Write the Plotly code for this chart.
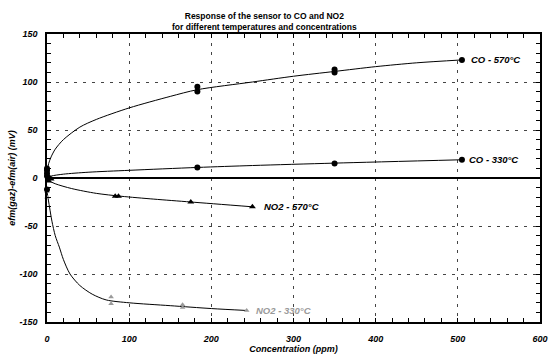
import plotly.graph_objects as go

# Fitted curves
co570_cx = [0, 2, 5, 10, 20, 40, 60, 100, 150, 183, 250, 300, 350, 400, 450, 505]
co570_cy = [5, 15, 22, 30, 40, 53, 61, 73, 85, 92, 100, 106, 111, 116, 120, 123]
co330_cx = [0, 5, 20, 50, 100, 183, 250, 350, 505]
co330_cy = [0, 2, 4, 6, 8, 11, 13, 15.5, 19]
no2570_cx = [0, 10, 30, 60, 90, 130, 175, 250]
no2570_cy = [-2, -6, -11, -16, -19, -22, -25, -30]
no2330_cx = [0, 3, 6, 10, 15, 20, 28, 40, 55, 72, 100, 150, 200, 243]
no2330_cy = [-14, -30, -45, -60, -72, -85, -100, -112, -121, -127, -130, -133, -136, -138]

# Measured points
co570_x = [0, 0, 0, 183, 183, 350, 350, 505]
co570_y = [5, 8, 10, 90, 95, 110, 113, 123]
co330_x = [0, 2, 183, 350, 505]
co330_y = [2, 0, 11, 15, 19]
no2570_x = [2, 5, 83, 87, 175, 250]
no2570_y = [-3, -1, -19, -19, -25, -30]
no2330_x = [0, 0, 78, 78, 165, 165, 243]
no2330_y = [-14, -20, -124, -131, -132, -135, -138]
extra_x = [0]
extra_y = [-12]

labels = ["CO - 570°C", "CO - 330°C", "NO2 - 570°C", "NO2 - 330°C"]
label_x = [514, 511, 262, 252]
label_y = [123, 19, -30, -138]
label_col = ["black", "black", "black", "#9a9a9a"]

FONT = "Liberation Sans, Arial, sans-serif"
fig = go.Figure()

for cx, cy in [(co570_cx, co570_cy), (co330_cx, co330_cy), (no2570_cx, no2570_cy), (no2330_cx, no2330_cy)]:
    fig.add_trace(go.Scatter(x=cx, y=cy, mode="lines", line=dict(color="black", width=1, shape="spline", smoothing=0.8),
                             showlegend=False, hoverinfo="skip"))

for xs, ys, sym, sz, col in [(co570_x, co570_y, "circle", 6, "black"), (co330_x, co330_y, "circle", 6, "black"),
                             (no2570_x, no2570_y, "triangle-up", 6, "black"),
                             (no2330_x, no2330_y, "triangle-up", 5, "#9a9a9a"),
                             (extra_x, extra_y, "circle", 6, "black")]:
    fig.add_trace(go.Scatter(x=xs, y=ys, mode="markers", cliponaxis=False,
                             marker=dict(symbol=sym, size=sz, color=col), showlegend=False))

for t, x, y, c in zip(labels, label_x, label_y, label_col):
    fig.add_annotation(x=x, y=y, text="<b><i>" + t + "</i></b>", showarrow=False, xanchor="left", yanchor="middle",
                       font=dict(family=FONT, size=9.5, color=c))

fig.add_annotation(xref="paper", yref="paper", x=(268 - 47) / 501, y=(330 - 21) / 296,
                   text="<b>Response of the sensor to CO and NO2<br>for different temperatures and concentrations</b>",
                   showarrow=False, xanchor="center", yanchor="middle", align="center",
                   font=dict(family=FONT, size=8.5, color="black"))

axis_common = dict(showline=True, linecolor="black", linewidth=1.5, mirror="ticks", ticks="inside",
                   ticklen=4, tickcolor="black", showgrid=True, gridcolor="#444444", gridwidth=1,
                   griddash="3px,6px", tickfont=dict(family=FONT, size=9, color="black"))

fig.update_xaxes(range=[0, 600], tickvals=[0, 100, 200, 300, 400, 500, 600],
                 ticktext=["<b><i>%d</i></b>" % v for v in [0, 100, 200, 300, 400, 500, 600]],
                 minor=dict(dtick=20, ticks="inside", ticklen=4, tickcolor="black", showgrid=False),
                 zeroline=False, ticklabelstandoff=7,
                 title=dict(text="<b><i>Concentration (ppm)</i></b>", font=dict(family=FONT, size=9, color="black"), standoff=3),
                 **axis_common)
fig.update_yaxes(range=[-150, 150], tickvals=[-150, -100, -50, 0, 50, 100, 150],
                 ticktext=["<b><i>%d</i></b>" % v for v in [-150, -100, -50, 0, 50, 100, 150]],
                 minor=dict(dtick=10, ticks="inside", ticklen=4, tickcolor="black", showgrid=False),
                 zeroline=True, zerolinecolor="black", zerolinewidth=1.5, ticklabelstandoff=6,
                 title=dict(text="<b><i>efm(gaz)-efm(air) (mV)</i></b>", font=dict(family=FONT, size=9, color="black"), standoff=2),
                 **axis_common)

fig.update_layout(width=555, height=360, margin=dict(l=47, r=7, t=34, b=30),
                  plot_bgcolor="white", paper_bgcolor="white", font=dict(family=FONT))
fig.write_html("out.html")
